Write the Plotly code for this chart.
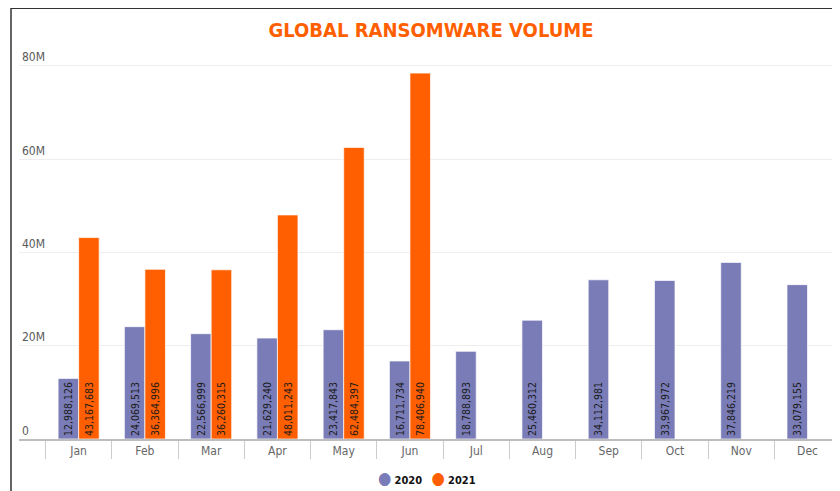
import plotly.graph_objects as go

months = ["Jan", "Feb", "Mar", "Apr", "May", "Jun", "Jul", "Aug", "Sep", "Oct", "Nov", "Dec"]
vol_2020 = [12988126, 24069513, 22566999, 21629240, 23417843, 16711734,
            18788893, 25460312, 34112981, 33967972, 37846219, 33079155]
vol_2021 = [43167683, 36364996, 36260315, 48011243, 62484397, 78406940,
            None, None, None, None, None, None]
series_names = ["2020", "2021"]
y_tick_vals = [0, 20e6, 40e6, 60e6, 80e6]
y_tick_text = ["0", "20M", "40M", "60M", "80M"]

C2020 = "#797cb7"
C2021 = "#ff5f00"
FONT = "DejaVu Sans Condensed"

fig = go.Figure()
for name, vals, col in zip(series_names, [vol_2020, vol_2021], [C2020, C2021]):
    fig.add_trace(go.Bar(
        x=months, y=vals, name=name, showlegend=False,
        marker=dict(color=col, line=dict(color="rgba(255,255,255,0.7)", width=1)),
        texttemplate="%{y:,}", textposition="inside", textangle=-90,
        insidetextanchor="start",
        textfont=dict(family=FONT, size=10.5, color="#1a1a1a"),
        hoverinfo="x+y",
    ))

# The page has an 8px body margin, so figure px = screen px - 8.
W, H = 832, 483
L, R, T, B = 11, 0, 39, 52
PH = H - T - B  # plot height
PW = W - L - R

legend_text = (
    f'<span style="color:{C2020};font-size:17px">●</span> <b>{series_names[0]}</b>'
    f'   <span style="color:{C2021};font-size:17px">●</span> <b>{series_names[1]}</b>'
)

fig.update_layout(
    width=W, height=H,
    barmode="group", bargap=0.38, bargroupgap=0,
    paper_bgcolor="white", plot_bgcolor="white",
    margin=dict(l=L, r=R, t=T, b=B, autoexpand=False),
    font=dict(family=FONT, color="#666"),
    showlegend=False,
    title=dict(text="<b>GLOBAL RANSOMWARE VOLUME</b>", x=423 / W, xref="container",
               y=1 - 21.5 / H, yref="container", yanchor="middle", xanchor="center",
               font=dict(family=FONT, size=20, color="#ff5f00")),
    xaxis=dict(type="category", range=[-0.9, 11.49], tickson="boundaries",
               ticks="outside", ticklen=18, tickcolor="#cccccc", tickwidth=1,
               showline=True, linecolor="#bdbdbd", linewidth=2, automargin=False,
               showgrid=False, tickfont=dict(family=FONT, size=12, color="#666")),
    yaxis=dict(range=[0, 84e6], tickvals=y_tick_vals, ticktext=y_tick_text,
               ticklabelposition="inside top", showgrid=True, gridcolor="#eeeeee",
               gridwidth=1, zeroline=False, showline=False, automargin=False,
               tickfont=dict(family=FONT, size=12, color="#5a5a5a")),
    annotations=[
        dict(text=legend_text, xref="paper", yref="paper",
             x=(419 - L) / PW, y=-(470 - (T + PH)) / PH, xanchor="center", yanchor="middle",
             showarrow=False, font=dict(family=FONT, size=11, color="#111")),
    ],
    shapes=[
        dict(type="line", xref="paper", yref="paper",
             x0=(3 - L) / PW, x1=1.01, y0=(T + PH) / PH, y1=(T + PH) / PH,
             line=dict(color="#333", width=2)),
        dict(type="line", xref="paper", yref="paper",
             x0=(3 - L) / PW, x1=(3 - L) / PW, y0=(T + PH) / PH, y1=-0.2,
             line=dict(color="#333", width=1.5)),
    ],
)

fig.write_html("out.html")
